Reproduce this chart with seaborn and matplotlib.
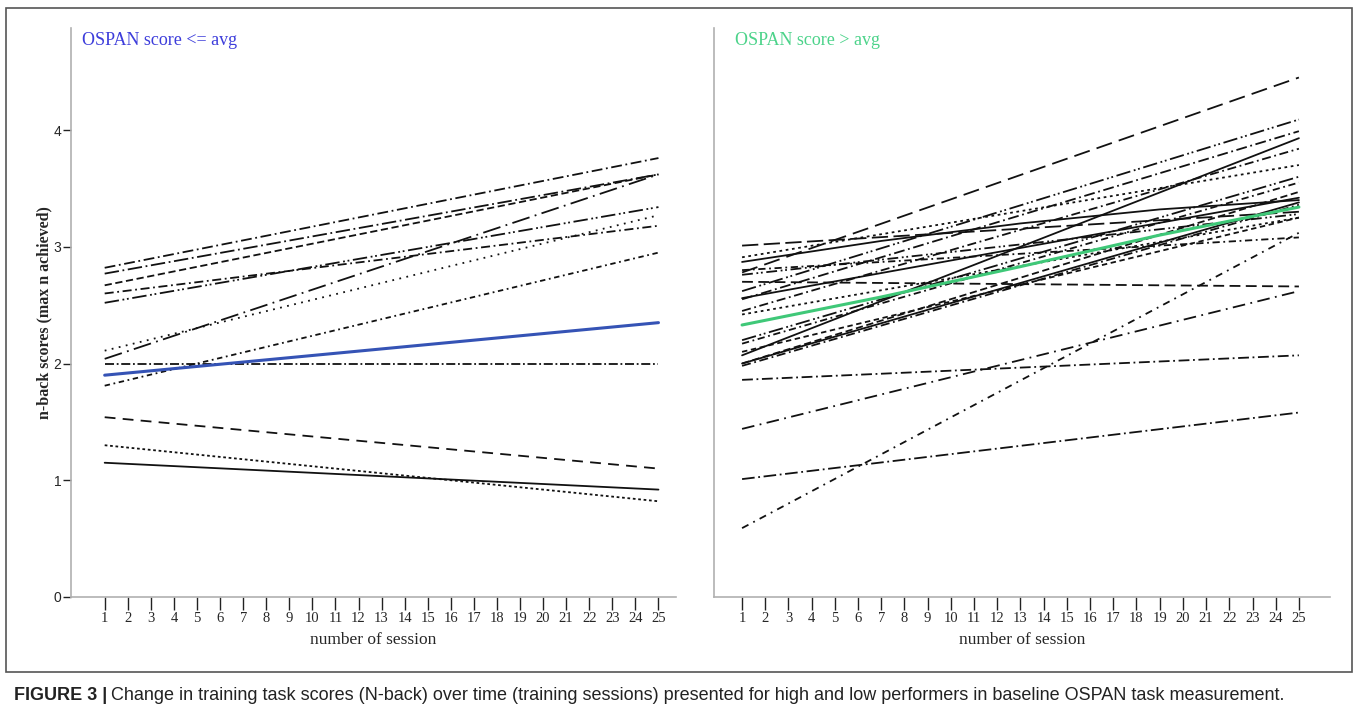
import pandas as pd
import matplotlib.pyplot as plt
import matplotlib.patches as mpatches
import seaborn as sns

# sessions shown on the x axis
sessions = list(range(1, 26))
line_ends = [1, 25]
curve_sessions = [1, 7, 13, 19, 25]

# OSPAN score <= avg: fitted score at session 1 and session 25
low_start = [2.82, 2.77, 2.67, 2.60, 2.52, 2.11, 2.04, 1.81, 2.00, 1.54, 1.30, 1.15]
low_end = [3.76, 3.62, 3.62, 3.18, 3.34, 3.27, 3.62, 2.95, 2.00, 1.10, 0.82, 0.92]
low_mean = [1.90, 2.35]

# OSPAN score > avg
high_start = [2.78, 2.62, 2.55, 2.07, 2.45, 2.91, 2.20, 2.00, 2.56, 3.01, 2.42,
              2.80, 2.70, 1.44, 1.86, 1.01, 0.59, 2.00, 2.10, 1.98, 2.76, 2.17]
high_end = [4.45, 4.09, 3.99, 3.93, 3.84, 3.70, 3.60, 3.47, 3.42, 3.30, 3.25,
            3.08, 2.66, 2.62, 2.07, 1.58, 3.12, 3.38, 3.25, 3.36, 3.28, 3.55]
high_curve = [2.87, 3.05, 3.20, 3.32, 3.40]
high_mean = [2.33, 2.57, 2.83, 3.10, 3.34]

y_ticks = [0, 1, 2, 3, 4]

low_styles = [(6, 2, 1, 2), (8, 2, 1, 2), (4, 2), (5, 2, 1, 2), (8, 2, 1, 1.5, 1, 2),
              (1, 3), (10, 3, 1, 3), (3, 2, 1, 2), (5, 1.5, 1, 1.5), (6, 4), (1.5, 1.5), ""]
high_styles = [(9, 4), (8, 2, 1, 1.5, 1, 2), (6, 2, 1, 2), "", (5, 2, 1, 2), (1.5, 2),
               (8, 2, 1, 1.5, 1, 2), (4, 2), "", (9, 3), (1.5, 2), (4, 2, 1, 2), (6, 3),
               (7, 3, 1, 3), (6, 2, 1, 2), (7, 2, 1, 2), (4, 3, 1, 3), "", (3, 2),
               (5, 2, 1, 2), (6, 2, 1, 1.5, 1, 2), (4, 2, 1, 2)]


def long_table(starts, ends, prefix):
    rows = []
    for i, (s, e) in enumerate(zip(starts, ends)):
        rows.append({"id": f"{prefix}{i}", "session": line_ends[0], "score": s})
        rows.append({"id": f"{prefix}{i}", "session": line_ends[1], "score": e})
    return pd.DataFrame(rows)


sns.set_theme(style="white")
plt.rcParams["font.family"] = ["Liberation Serif", "DejaVu Serif"]

fig = plt.figure(figsize=(13.58, 7.14), dpi=100)
ax1 = fig.add_axes([71 / 1358, 1 - 597 / 714, 605 / 1358, 569 / 714])
ax2 = fig.add_axes([714 / 1358, 1 - 597 / 714, 616 / 1358, 569 / 714])

low_df = long_table(low_start, low_end, "L")
sns.lineplot(
    data=low_df, x="session", y="score", style="id",
    dashes=dict(zip(low_df["id"].unique(), low_styles)),
    color="#111111", lw=1.3, legend=False, errorbar=None, ax=ax1
)
sns.lineplot(x=line_ends, y=low_mean, color="#3553b5", lw=2.2, ax=ax1)

high_df = long_table(high_start, high_end, "H")
sns.lineplot(
    data=high_df, x="session", y="score", style="id",
    dashes=dict(zip(high_df["id"].unique(), high_styles)),
    color="#111111", lw=1.3, legend=False, errorbar=None, ax=ax2
)
sns.lineplot(x=curve_sessions, y=high_curve, color="#111111", lw=1.3, ax=ax2)
sns.lineplot(x=curve_sessions, y=high_mean, color="#3fc878", lw=2.2, ax=ax2)

ax1.set_xlim(-0.46, 25.76)
ax2.set_xlim(-0.21, 26.34)

for ax in (ax1, ax2):
    ax.set_ylim(0, 4.874)
    ax.set_xticks(sessions)
    ax.set_xticklabels([str(s) for s in sessions], fontsize=10.5)
    ax.set_xlabel("number of session", fontsize=12.5, labelpad=5)
    ax.set_ylabel("")
    for side in ("top", "right"):
        ax.spines[side].set_visible(False)
    for side in ("left", "bottom"):
        ax.spines[side].set_color("#b0b0b0")
        ax.spines[side].set_linewidth(1.2)
    ax.tick_params(axis="x", direction="out", length=9, width=1, color="#222222",
                   bottom=True, pad=2)
    ax.grid(False)

ax1.set_yticks(y_ticks)
ax1.set_yticklabels([str(v) for v in y_ticks], fontsize=10, family="Liberation Sans")
ax1.tick_params(axis="y", direction="out", length=6, width=1, color="#222222", left=True, pad=1)
ax1.set_ylabel("n-back scores (max n achieved)", fontsize=11.5, fontweight="bold", labelpad=1)
ax2.set_yticks([])

ax1.text(0.018, 0.993, "OSPAN score <= avg", transform=ax1.transAxes,
         color="#3d3ddb", fontsize=13, va="top", ha="left")
ax2.text(0.034, 0.993, "OSPAN score > avg", transform=ax2.transAxes,
         color="#4cd38a", fontsize=13, va="top", ha="left")

# outer frame around the two panels
fig.patches.append(mpatches.Rectangle(
    (6 / 1358, 1 - 672 / 714), 1346 / 1358, 664 / 714,
    transform=fig.transFigure, fill=False, edgecolor="#555555", lw=1.2
))

# caption
cap_y = 1 - 696 / 714
t1 = fig.text(14 / 1358, cap_y, "FIGURE 3 |", fontsize=13, fontweight="bold",
              family="Liberation Sans", va="center", ha="left", color="#222222")
fig.canvas.draw()
bb = t1.get_window_extent()
fig.text((bb.x1 + 4) / 1358, cap_y,
         "Change in training task scores (N-back) over time (training sessions) presented "
         "for high and low performers in baseline OSPAN task measurement.",
         fontsize=13, family="Liberation Sans", va="center", ha="left", color="#222222")

plt.savefig("out.png", dpi=100)
plt.close()
